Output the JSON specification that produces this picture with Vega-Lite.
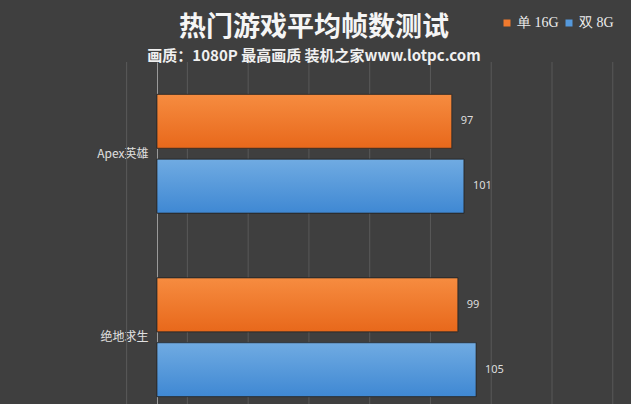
{
  "$schema": "https://vega.github.io/schema/vega-lite/v6.json",
  "width": 474,
  "height": 342,
  "autosize": {"type": "none"},
  "padding": {"left": 157, "top": 62, "right": 0, "bottom": 0},
  "background": "#3f3f3f",
  "title": {
    "text": "热门游戏平均帧数测试",
    "subtitle": "画质：1080P 最高画质 装机之家www.lotpc.com",
    "anchor": "middle",
    "frame": "group",
    "dx": -80,
    "dy": 52,
    "offset": 3,
    "font": "Noto Sans CJK SC",
    "fontSize": 27,
    "fontWeight": "bold",
    "color": "#f5f5f5",
    "subtitleFont": "Noto Sans CJK SC",
    "subtitleFontSize": 15,
    "subtitleFontWeight": "bold",
    "subtitleColor": "#f0f0f0",
    "subtitlePadding": 7
  },
  "config": {
    "view": {"stroke": null},
    "legend": {"labelFont": "Liberation Serif"}
  },
  "data": {
    "values": [
      {"game": "Apex英雄", "series": "单 16G", "fps": 97},
      {"game": "Apex英雄", "series": "双 8G", "fps": 101},
      {"game": "绝地求生", "series": "单 16G", "fps": 99},
      {"game": "绝地求生", "series": "双 8G", "fps": 105}
    ]
  },
  "layer": [
    {
      "data": {"values": [{"g": -10}, {"g": 10}, {"g": 30}, {"g": 50}, {"g": 70}, {"g": 90}, {"g": 110}, {"g": 130}, {"g": 150}]},
      "mark": {"type": "rule", "color": "#595959", "strokeWidth": 1},
      "encoding": {
        "x": {"field": "g", "type": "quantitative", "axis": null, "scale": {"domain": [0, 156], "nice": false, "zero": true}}
      }
    },
    {
      "mark": {"type": "bar", "stroke": "#262626", "strokeWidth": 1, "strokeOpacity": 0.7},
      "encoding": {
        "y": {
          "field": "game",
          "type": "nominal",
          "sort": null,
          "scale": {"range": [0, 367], "paddingInner": 0, "paddingOuter": 0},
          "axis": {
            "title": null,
            "ticks": false,
            "domainColor": "#9a9a9a",
            "domainWidth": 1,
            "labelColor": "#e0e0e0",
            "labelFont": "Noto Sans CJK SC",
            "labelFontSize": 12,
            "labelPadding": 9
          }
        },
        "yOffset": {
          "field": "series",
          "type": "nominal",
          "sort": ["单 16G", "双 8G"],
          "scale": {"paddingInner": 0.17, "paddingOuter": 0.5}
        },
        "x": {"field": "fps", "type": "quantitative", "axis": null},
        "color": {
          "field": "series",
          "type": "nominal",
          "sort": null,
          "scale": {
            "domain": ["单 16G", "双 8G"],
            "range": ["#f07a2e", "#5599dc"]
          },
          "legend": {
            "title": null,
            "orient": "none",
            "legendX": 343,
            "legendY": -46,
            "direction": "horizontal",
            "symbolType": "square",
            "symbolSize": 49,
            "symbolStrokeWidth": 0,
            "labelColor": "#eeeeee",
            "labelFontSize": 14,
            "columnPadding": 3,
            "labelOffset": 3
          }
        }
      }
    },
    {
      "transform": [{"filter": "datum.series === '单 16G'"}],
      "mark": {
        "type": "bar",
        "stroke": "#262626", "strokeWidth": 1, "strokeOpacity": 0.7,
        "fill": {"gradient": "linear", "x1": 0, "y1": 0, "x2": 0, "y2": 1, "stops": [{"offset": 0, "color": "#f68c40"}, {"offset": 1, "color": "#e8681b"}]}
      },
      "encoding": {
        "y": {"field": "game", "type": "nominal", "sort": null},
        "yOffset": {"field": "series", "type": "nominal", "sort": ["单 16G", "双 8G"]},
        "x": {"field": "fps", "type": "quantitative", "axis": null}
      }
    },
    {
      "transform": [{"filter": "datum.series === '双 8G'"}],
      "mark": {
        "type": "bar",
        "stroke": "#262626", "strokeWidth": 1, "strokeOpacity": 0.7,
        "fill": {"gradient": "linear", "x1": 0, "y1": 0, "x2": 0, "y2": 1, "stops": [{"offset": 0, "color": "#70abe2"}, {"offset": 1, "color": "#3f88d3"}]}
      },
      "encoding": {
        "y": {"field": "game", "type": "nominal", "sort": null},
        "yOffset": {"field": "series", "type": "nominal", "sort": ["单 16G", "双 8G"]},
        "x": {"field": "fps", "type": "quantitative", "axis": null}
      }
    },
    {
      "mark": {"type": "text", "align": "left", "baseline": "middle", "dx": 9, "fontSize": 11, "color": "#dddddd", "font": "Noto Sans"},
      "encoding": {
        "y": {"field": "game", "type": "nominal", "sort": null},
        "yOffset": {"field": "series", "type": "nominal", "sort": ["单 16G", "双 8G"]},
        "x": {"field": "fps", "type": "quantitative", "axis": null},
        "text": {"field": "fps", "type": "quantitative"}
      }
    }
  ]
}
